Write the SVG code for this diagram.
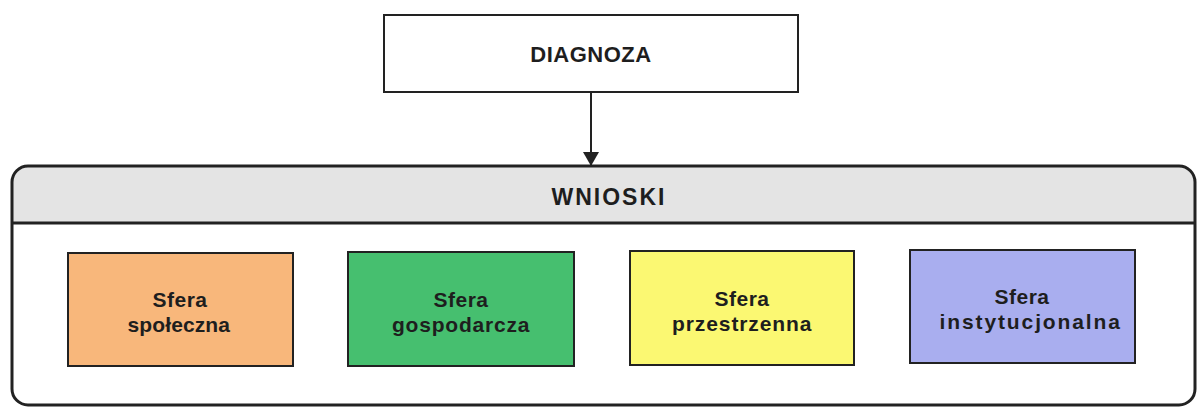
<svg xmlns="http://www.w3.org/2000/svg" width="1197" height="407" viewBox="0 0 1197 407">
<defs>
<marker id="arr" markerWidth="14" markerHeight="16" refX="13" refY="8" orient="auto" markerUnits="userSpaceOnUse">
<path d="M0,0 L14,8 L0,16 Z" fill="#222"/>
</marker>
<clipPath id="cclip"><rect x="12" y="166" width="1183" height="239" rx="16"/></clipPath>
</defs>
<style>
.t{font-family:"Liberation Sans",Arial,sans-serif;font-weight:bold;fill:#1e1e1e;text-anchor:middle}
.box{stroke:#222;stroke-width:2}
.s{font-size:21px;letter-spacing:0.5px}
</style>
<rect width="1197" height="407" fill="#ffffff"/>
<g id="diagnoza">
<rect x="384" y="15" width="414" height="77" fill="#ffffff" class="box"/>
<text class="t" x="591" y="62" font-size="22" letter-spacing="0.5">DIAGNOZA</text>
</g>
<g id="connectors">
<line x1="591" y1="92" x2="591" y2="165" stroke="#222" stroke-width="2" marker-end="url(#arr)"/>
</g>
<g id="wnioski">
<rect x="12" y="166" width="1183" height="239" rx="16" fill="#ffffff"/>
<rect x="12" y="166" width="1183" height="57" fill="#e4e4e4" clip-path="url(#cclip)"/>
<line x1="12" y1="223" x2="1195" y2="223" stroke="#222" stroke-width="3"/>
<rect x="12" y="166" width="1183" height="239" rx="16" fill="none" stroke="#222" stroke-width="3"/>
<text class="t" x="609" y="205" font-size="23" letter-spacing="2">WNIOSKI</text>
</g>
<g id="spoleczna">
<rect x="68" y="253" width="225" height="113" fill="#f8b77b" class="box"/>
<text class="t s" x="180" y="307">Sfera</text>
<text class="t s" x="179" y="332" textLength="103" lengthAdjust="spacing">społeczna</text>
</g>
<g id="gospodarcza">
<rect x="348" y="252" width="226" height="114" fill="#46bf6f" class="box"/>
<text class="t s" x="461" y="307">Sfera</text>
<text class="t s" x="461" y="332" textLength="138" lengthAdjust="spacing">gospodarcza</text>
</g>
<g id="przestrzenna">
<rect x="630" y="251" width="224" height="114" fill="#fbf872" class="box"/>
<text class="t s" x="742" y="306">Sfera</text>
<text class="t s" x="742" y="331" textLength="140" lengthAdjust="spacing">przestrzenna</text>
</g>
<g id="instytucjonalna">
<rect x="910" y="250" width="225" height="113" fill="#a9aeef" class="box"/>
<text class="t s" x="1022" y="304">Sfera</text>
<text class="t s" x="1030" y="329" textLength="181" lengthAdjust="spacing">instytucjonalna</text>
</g>
</svg>
